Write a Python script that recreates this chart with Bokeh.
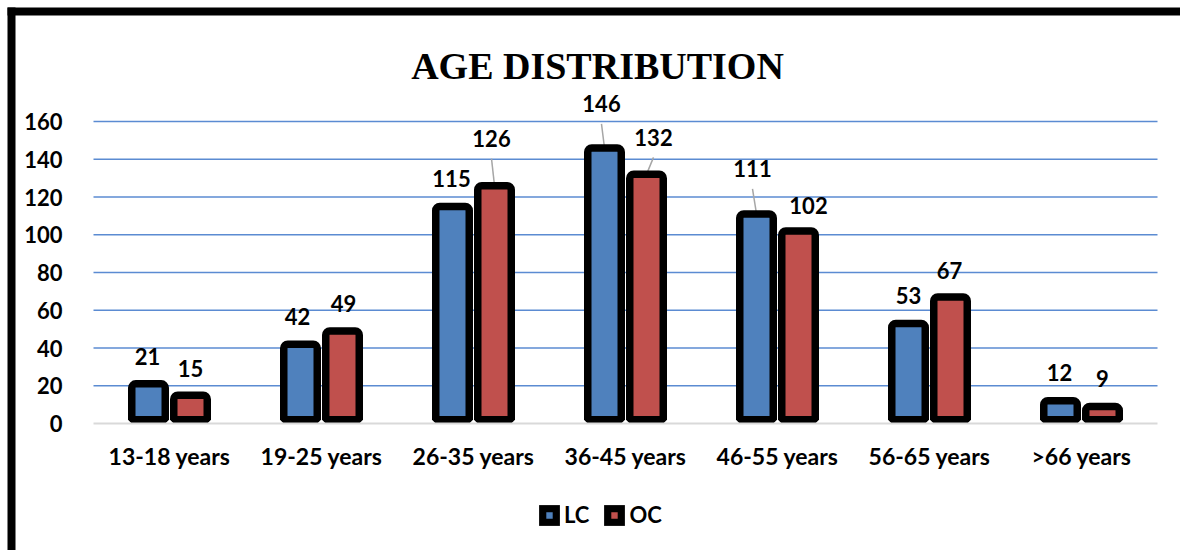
import numpy as np
from bokeh.plotting import figure
from bokeh.models import (ColumnDataSource, Range1d, FixedTicker, Legend, LegendItem,
                          Label, BoxAnnotation)
from bokeh.core.properties import value
from bokeh.embed import file_html
from bokeh.resources import INLINE

# ---------------- data ----------------
categories = ["13-18 years", "19-25 years", "26-35 years", "36-45 years",
              "46-55 years", "56-65 years", ">66 years"]
lc_values = [21, 42, 115, 146, 111, 53, 12]
oc_values = [15, 49, 126, 132, 102, 67, 9]
series_names = ["LC", "OC"]
y_ticks = [0, 20, 40, 60, 80, 100, 120, 140, 160]
chart_title = "AGE DISTRIBUTION"

# ---------------- layout / style (pixels) ----------------
W, H = 1180, 550
PLOT_LEFT, PLOT_RIGHT = 93, 1157      # extent of the plotting area
ZERO_Y, TOP_TICK_Y = 423, 121         # pixel rows of value 0 and of the top tick
PX_PER_CAT = (PLOT_RIGHT - PLOT_LEFT) / len(categories)
PX_PER_UNIT = (ZERO_Y - TOP_TICK_Y) / y_ticks[-1]
LINE_W = 7.5
DODGE = 21 / PX_PER_CAT
BAR_W = 33.5 / PX_PER_CAT


def px_to_x(px):
    return (px - PLOT_LEFT) / PX_PER_CAT - 0.5


def px_to_y(py):
    return (ZERO_Y - py) / PX_PER_UNIT


LC_COLOR = "#4F81BD"
OC_COLOR = "#C0504D"
GRID_COLOR = "#5B8BD2"
FONT = "Lato"

# label placement (pixels): horizontal shift and height of label centre above bar top
lc_label_dx = [-1, -3, -1, -3, -4, 0, -1]
lc_label_dy = [27, 28, 28, 44, 45, 28, 28]
oc_label_dx = [0, 1, -3, 7, 10, -1, 0]
oc_label_dy = [27, 28, 47, 37, 25, 27, 28]

idx = list(range(len(categories)))
lc_x = [i - DODGE for i in idx]
oc_x = [i + DODGE for i in idx]
x_lo, x_hi = -0.5, len(categories) - 0.5

p = figure(width=W, height=H, output_backend="svg", toolbar_location=None,
           x_range=Range1d(px_to_x(0), px_to_x(W)), y_range=Range1d(px_to_y(H), px_to_y(0)),
           min_border=0)
p.title.visible = False
p.outline_line_color = None
p.background_fill_color = "white"
p.border_fill_color = "white"
p.xgrid.visible = False
p.ygrid.visible = False

# horizontal gridlines restricted to the plotting area
grid_y = y_ticks[1:]
p.segment(x0=[x_lo] * len(grid_y), x1=[x_hi] * len(grid_y), y0=grid_y, y1=grid_y,
          line_color=GRID_COLOR, line_width=1.6)

# axes placed inside the (full-canvas) frame
p.yaxis.fixed_location = x_lo
p.yaxis.ticker = FixedTicker(ticks=y_ticks)
p.yaxis.axis_line_color = None
p.yaxis.major_tick_line_color = None
p.yaxis.minor_tick_line_color = None
p.yaxis.major_label_standoff = 25
p.yaxis.major_label_text_font = FONT
p.yaxis.major_label_text_font_style = "bold"
p.yaxis.major_label_text_font_size = "22px"
p.yaxis.major_label_text_color = "black"

p.xaxis.fixed_location = 0
p.xaxis.bounds = (x_lo, x_hi)
p.xaxis.ticker = FixedTicker(ticks=idx)
overrides = {}
for i, c in zip(idx, categories):
    overrides[i] = c
    overrides[str(i)] = c
p.xaxis.major_label_overrides = overrides
p.xaxis.axis_line_color = "#D9D9D9"
p.xaxis.axis_line_width = 2
p.xaxis.major_tick_line_color = None
p.xaxis.minor_tick_line_color = None
p.xaxis.major_label_standoff = 12
p.xaxis.major_label_text_font = FONT
p.xaxis.major_label_text_font_style = "bold"
p.xaxis.major_label_text_font_size = "23px"
p.xaxis.major_label_text_color = "black"

# leader lines for lifted labels
seg = dict(x0=[], y0=[], x1=[], y1=[])
for xs, vals, dxs, dys in ((lc_x, lc_values, lc_label_dx, lc_label_dy),
                           (oc_x, oc_values, oc_label_dx, oc_label_dy)):
    for x, v, dx, dy in zip(xs, vals, dxs, dys):
        if dy > 34:
            seg["x0"].append(x)
            seg["y0"].append(v)
            seg["x1"].append(x + dx / PX_PER_CAT)
            seg["y1"].append(v + (dy - 20) / PX_PER_UNIT)
p.segment(x0="x0", y0="y0", x1="x1", y1="y1", source=ColumnDataSource(seg),
          line_color="#A6A6A6", line_width=1.5)

# bars (outline bottom sits on the zero line)
bar_bottom = (LINE_W / 2) / PX_PER_UNIT
lc_src = ColumnDataSource(dict(x=lc_x, top=lc_values, label=[str(v) for v in lc_values],
                               dx=lc_label_dx, dy=[-d for d in lc_label_dy]))
oc_src = ColumnDataSource(dict(x=oc_x, top=oc_values, label=[str(v) for v in oc_values],
                               dx=oc_label_dx, dy=[-d for d in oc_label_dy]))
r_lc = p.vbar(x="x", top="top", bottom=bar_bottom, width=BAR_W, source=lc_src,
              fill_color=LC_COLOR, line_color="black", line_width=LINE_W,
              border_radius=(4, 4, 0, 0))
r_oc = p.vbar(x="x", top="top", bottom=bar_bottom, width=BAR_W, source=oc_src,
              fill_color=OC_COLOR, line_color="black", line_width=LINE_W,
              border_radius=(4, 4, 0, 0))

# data labels
for src in (lc_src, oc_src):
    p.text(x="x", y="top", text="label", source=src, x_offset="dx", y_offset="dy",
           text_align="center", text_baseline="middle",
           text_font=value(FONT), text_font_style="bold", text_font_size="22px",
           text_color="black")

# title
title = Label(x=px_to_x(597), y=px_to_y(65),
              text=chart_title, text_align="center", text_baseline="alphabetic",
              text_font="Liberation Serif", text_font_style="bold",
              text_font_size="38px", text_color="black")
p.add_layout(title)

# legend swatches (not drawn in the plot: NaN positions): thick black square, small coloured centre
nan_src = ColumnDataSource(dict(x=np.array([np.nan]), y=np.array([np.nan])))
sw_black = p.vbar(x="x", top="y", width=0.1, source=nan_src,
                  fill_color="black", line_color=None)
sw_lc = p.scatter(x="x", y="y", source=nan_src, marker="square", fill_color=LC_COLOR,
                  line_color="black", line_width=4)
sw_oc = p.scatter(x="x", y="y", source=nan_src, marker="square", fill_color=OC_COLOR,
                  line_color="black", line_width=4)

legend = Legend(items=[LegendItem(label=series_names[0], renderers=[sw_black, sw_lc]),
                       LegendItem(label=series_names[1], renderers=[sw_black, sw_oc])],
                orientation="horizontal", location=(531, 17),
                glyph_width=26, glyph_height=26, label_standoff=2, spacing=12,
                padding=5, margin=0,
                label_text_font=FONT, label_text_font_style="bold",
                label_text_font_size="22px", label_text_color="black",
                border_line_alpha=0, background_fill_alpha=0)
p.add_layout(legend)

# outer frame (top and left edges)
p.add_layout(BoxAnnotation(left=px_to_x(7), right=px_to_x(W + 5),
                           top=px_to_y(7), bottom=px_to_y(15),
                           fill_color="black", fill_alpha=1, line_alpha=0))
p.add_layout(BoxAnnotation(left=px_to_x(7), right=px_to_x(15),
                           top=px_to_y(7), bottom=px_to_y(H + 5),
                           fill_color="black", fill_alpha=1, line_alpha=0))

open("out.html", "w").write(file_html(p, INLINE))
